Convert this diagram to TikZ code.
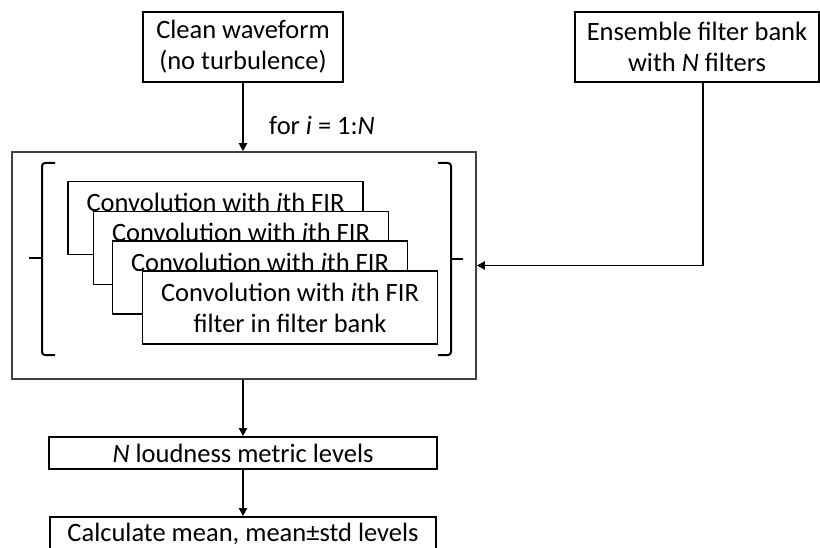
\documentclass[tikz,border=0pt]{standalone}
\usepackage{fontspec}
\setmainfont{Carlito}
\usetikzlibrary{arrows.meta}
\tikzset{
  txt/.style={font=\fontsize{26.5}{31}\selectfont},
  box/.style={txt, draw=black, line width=1.8pt, fill=white, inner sep=0pt, align=center},
  conv/.style={box, minimum width=295pt, minimum height=73pt},
  outerbox/.style={draw=black!75, line width=1.5pt, inner sep=0pt, minimum width=464pt, minimum height=227pt},
  arr/.style={line width=1.8pt, -{Triangle[length=8pt,width=8pt]}},
  brk/.style={line width=2pt, rounded corners=3pt},
  lbl/.style={txt, inner sep=0pt}
}
\begin{document}
\begin{tikzpicture}[x=1pt,y=-1pt]
\useasboundingbox (0,0) rectangle (820,548);
% top boxes
\node[box, minimum width=200pt, minimum height=70pt] (clean) at (243,47) {Clean waveform\\(no turbulence)};
\node[box, minimum width=244pt, minimum height=70pt] (ens) at (697,47) {Ensemble filter bank\\with \textit{N} filters};
% outer box
\node[outerbox] (outer) at (244,265.5) {};
% stacked convolution boxes
\node[conv] (c1) at (215.5,218) {};
\node[lbl] (t1) at ([yshift=15.5pt]c1.center) {Convolution with \textit{i}th FIR};
\node[conv] (c2) at (241,248) {};
\node[lbl] (t2) at ([yshift=15.5pt]c2.center) {Convolution with \textit{i}th FIR};
\node[conv] (c3) at (260,277.5) {};
\node[lbl] (t3) at ([yshift=15.5pt]c3.center) {Convolution with \textit{i}th FIR};
\node[conv] (c4) at (290,307.5) {Convolution with \textit{i}th FIR\\filter in filter bank};
% brackets
\draw[brk] (55,163) -- (42,163) -- (42,355) -- (55,355);
\draw[line width=2pt] (42,258) -- (29,258);
\draw[brk] (438,163) -- (451,163) -- (451,355) -- (438,355);
\draw[line width=2pt] (451,259) -- (463,259);
% lower boxes
\node[box, minimum width=388pt, minimum height=32pt] (nlev) at (243,453) {\textit{N} loudness metric levels};
\node[box, minimum width=386pt, minimum height=33pt] (calc) at (243,533.5) {Calculate mean, mean±std levels};
% label
\node[lbl] (loop) at (322,125) {for \textit{i} = 1:\textit{N}};
% connectors
\coordinate (bend) at (703,265.5);
\draw[arr] (clean.south) -- (clean.south |- outer.north);
\draw[arr] (ens.south -| bend) -- (bend) -- (outer.east);
\draw[arr] (outer.south -| nlev.north) -- (nlev.north);
\draw[arr] (nlev.south) -- (calc.north);
\end{tikzpicture}
\end{document}
